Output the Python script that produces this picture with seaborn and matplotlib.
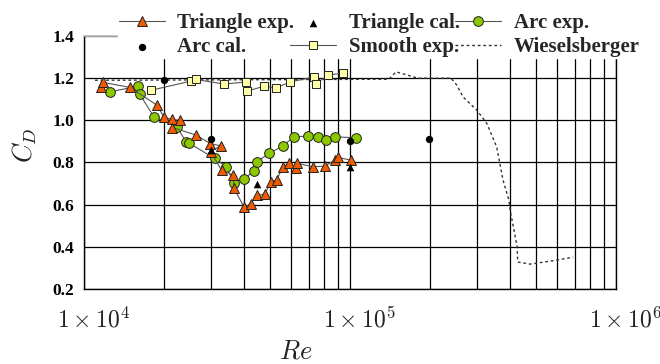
import matplotlib
matplotlib.use("Agg")
import matplotlib.pyplot as plt
import seaborn as sns
from matplotlib.ticker import LogLocator, NullFormatter, FixedLocator, FixedFormatter
from matplotlib.transforms import ScaledTranslation
from matplotlib.font_manager import FontProperties

# Triangle cylinder, experiment
tri_exp_re = [1.16e4, 1.18e4, 1.49e4, 1.88e4, 2.0e4, 2.14e4, 2.3e4, 2.15e4, 2.64e4,
              2.98e4, 3.26e4, 2.99e4, 3.29e4, 3.64e4, 3.67e4, 4.0e4, 4.23e4, 4.46e4,
              4.79e4, 5.03e4, 5.3e4, 5.58e4, 5.91e4, 6.27e4, 6.34e4, 7.24e4, 8.05e4,
              8.78e4, 8.99e4, 1.01e5]
tri_exp_cd = [1.16, 1.18, 1.156, 1.072, 1.014, 1.004, 1.0, 0.966, 0.93,
              0.89, 0.879, 0.851, 0.764, 0.74, 0.677, 0.587, 0.603, 0.644,
              0.65, 0.709, 0.717, 0.777, 0.796, 0.772, 0.796, 0.78, 0.783,
              0.811, 0.824, 0.811]

# Triangle cylinder, calculation
tri_cal_re = [3.0e4, 4.49e4, 1.0e5]
tri_cal_cd = [0.86, 0.70, 0.78]

# Arc cylinder, experiment
arc_exp_re = [1.25e4, 1.6e4, 1.62e4, 1.83e4, 2.23e4, 2.42e4, 2.49e4, 3.1e4, 3.42e4,
              3.66e4, 4.0e4, 4.35e4, 4.46e4, 4.97e4, 5.58e4, 6.16e4, 6.97e4, 7.6e4,
              8.12e4, 8.78e4, 1.05e5]
arc_exp_cd = [1.135, 1.162, 1.124, 1.017, 0.97, 0.898, 0.891, 0.819, 0.78,
              0.705, 0.721, 0.761, 0.804, 0.843, 0.878, 0.922, 0.925, 0.922,
              0.906, 0.922, 0.917]

# Arc cylinder, calculation
arc_cal_re = [2.0e4, 3.0e4, 1.0e5, 1.98e5]
arc_cal_cd = [1.19, 0.91, 0.90, 0.91]

# Smooth cylinder, experiment
smooth_re = [1.78e4, 2.52e4, 2.63e4, 3.36e4, 4.06e4, 4.09e4, 4.76e4, 5.27e4,
             5.95e4, 7.34e4, 7.43e4, 8.28e4, 9.44e4]
smooth_cd = [1.142, 1.186, 1.194, 1.172, 1.182, 1.138, 1.162, 1.153,
             1.182, 1.206, 1.173, 1.214, 1.225]

# Wieselsberger reference curve
wies_re = [1.1e4, 1.4e5, 1.49e5, 1.8e5, 2.4e5, 2.52e5, 2.66e5, 3.0e5, 3.27e5,
           3.56e5, 3.76e5, 3.96e5, 4.0e5, 4.25e5, 4.27e5, 4.75e5, 6.0e5, 6.9e5]
wies_cd = [1.19, 1.195, 1.23, 1.2, 1.2, 1.167, 1.111, 1.048, 0.985,
           0.874, 0.717, 0.62, 0.574, 0.40, 0.328, 0.318, 0.337, 0.351]

y_ticks = [0.2, 0.4, 0.6, 0.8, 1.0, 1.2, 1.4]
x_ticks = [1e4, 1e5, 1e6]
x_tick_labels = [r"$1\times10^{4}$", r"$1\times10^{5}$", r"$1\times10^{6}$"]

sns.set_theme(style="white")
plt.rcParams["font.family"] = ["Liberation Serif", "DejaVu Serif"]
plt.rcParams["mathtext.fontset"] = "cm"

fig = plt.figure(figsize=(6.6, 3.64), dpi=100)
ax = fig.add_axes([84 / 660, 1 - 289 / 364, 532 / 660, 253 / 364])

orange = "#F25A00"
green = "#8CC800"
pale = "#FFFFA8"
link = "#555555"

sns.lineplot(x=wies_re, y=wies_cd, ax=ax, sort=False, estimator=None,
             color="#333333", lw=1.0, linestyle=(0, (2, 2)), label="Wieselsberger")
sns.lineplot(x=smooth_re, y=smooth_cd, ax=ax, sort=False, estimator=None,
             color=link, lw=0.8, marker="s", markersize=6,
             markerfacecolor=pale, markeredgecolor="#222222", markeredgewidth=0.7,
             label="Smooth exp.")
sns.lineplot(x=arc_exp_re, y=arc_exp_cd, ax=ax, sort=False, estimator=None,
             color=link, lw=0.8, marker="o", markersize=7,
             markerfacecolor=green, markeredgecolor="#222222", markeredgewidth=0.7,
             label="Arc exp.")
sns.lineplot(x=tri_exp_re, y=tri_exp_cd, ax=ax, sort=False, estimator=None,
             color=link, lw=0.8, marker="^", markersize=7.5,
             markerfacecolor=orange, markeredgecolor="#222222", markeredgewidth=0.7,
             label="Triangle exp.")
sns.scatterplot(x=tri_cal_re, y=tri_cal_cd, ax=ax, marker="^", color="black",
                s=30, linewidth=0, zorder=5, label="Triangle cal.")
sns.scatterplot(x=arc_cal_re, y=arc_cal_cd, ax=ax, marker="o", color="black",
                s=28, linewidth=0, zorder=5, label="Arc cal.")

if ax.get_legend() is not None:
    ax.get_legend().remove()

ax.set_xscale("log")
ax.set_xlim(1e4, 1e6)
ax.set_ylim(0.2, 1.4)
ax.xaxis.set_major_locator(FixedLocator(x_ticks))
ax.xaxis.set_major_formatter(FixedFormatter(x_tick_labels))
ax.xaxis.set_minor_locator(LogLocator(base=10, subs=(2, 3, 4, 5, 6, 7, 8, 9)))
ax.xaxis.set_minor_formatter(NullFormatter())
ax.set_yticks(y_ticks)
ax.set_yticklabels([f"{v:.1f}" for v in y_ticks])

ax.grid(True, which="both", color="black", lw=0.9)
ax.set_axisbelow(True)
ax.tick_params(axis="both", which="both", length=0)
ax.tick_params(axis="y", pad=7)
ax.tick_params(axis="x", pad=13)
for lab in ax.get_yticklabels():
    lab.set_fontweight("bold")
    lab.set_fontsize(12.5)
    lab.set_color("black")
for lab in ax.get_xticklabels():
    lab.set_fontsize(17)
    lab.set_color("#222222")
    lab.set_transform(lab.get_transform() + ScaledTranslation(9 / 100, 0, fig.dpi_scale_trans))

for side in ["left", "bottom", "right"]:
    ax.spines[side].set_color("black")
    ax.spines[side].set_linewidth(1.0)
ax.spines["top"].set_color("#bbbbbb")

ax.set_xlabel(r"$Re$", fontsize=19, color="#222222")
ax.xaxis.set_label_coords(0.398, -0.205)
ax.set_ylabel(r"$C_D$", fontsize=19, color="#222222")
ax.yaxis.set_label_coords(-0.084, 0.569)

handles, labels = ax.get_legend_handles_labels()
lookup = dict(zip(labels, handles))
order = ["Triangle exp.", "Arc cal.", "Triangle cal.", "Smooth exp.", "Arc exp.", "Wieselsberger"]
leg = fig.legend([lookup[k] for k in order], order, ncol=3, loc="upper left",
                 bbox_to_anchor=(118 / 660, 1 - 12 / 364), frameon=True, facecolor="white",
                 edgecolor="white", framealpha=1, fancybox=False,
                 prop=FontProperties(family="Liberation Serif", weight="bold", size=15),
                 handlelength=2.2, handletextpad=0.6, columnspacing=-0.2,
                 labelspacing=0.2, borderpad=0.05, borderaxespad=0)

fig.savefig("out.png", dpi=100)
